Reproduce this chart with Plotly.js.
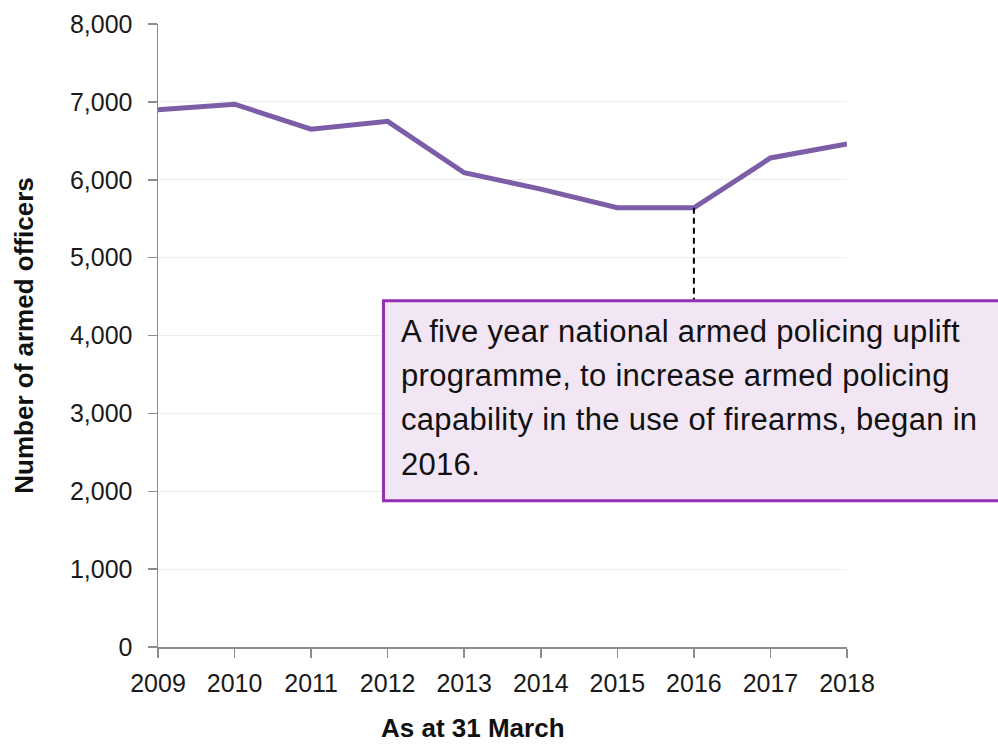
<!DOCTYPE html>
<html>
<head>
<meta charset="utf-8">
<script src="https://cdn.plot.ly/plotly-3.0.1.min.js"></script>
<style>
html,body{margin:0;padding:0;background:#fff;}
#chart{width:998px;height:744px;}
#chart .annotation[data-index="0"] text,
#chart .annotation[data-index="1"] text,
#chart .annotation[data-index="2"] text,
#chart .annotation[data-index="3"] text{letter-spacing:0.3px;}
</style>
</head>
<body>
<div id="chart"></div>
<script>
// Data
const years = [2009, 2010, 2011, 2012, 2013, 2014, 2015, 2016, 2017, 2018];
const officers = [6900, 6970, 6650, 6750, 6090, 5880, 5640, 5640, 6280, 6460];
const yTickVals = [0, 1000, 2000, 3000, 4000, 5000, 6000, 7000, 8000];
const noteLines = [
  "A five year national armed policing uplift",
  "programme, to increase armed policing",
  "capability in the use of firearms, began in",
  "2016."
];
const noteYear = 2016;
const xTitle = "As at 31 March";
const yTitle = "Number of armed officers";

const FONT = "Liberation Sans, Arial, Helvetica, sans-serif";
const yMax = 8000;

// annotation box (paper coords)
const box = {x0: 0.3273, x1: 1.23, y0: 0.2348, y1: 0.5559};

const trace = {
  type: "scatter",
  mode: "lines",
  x: years,
  y: officers,
  line: {color: "#7b5ea7", width: 5},
  hoverinfo: "x+y",
  cliponaxis: false
};

const noteIdx = years.indexOf(noteYear);

const annotations = noteLines.map((t, i) => ({
  xref: "paper", yref: "paper",
  x: 0.3498, y: box.y1,
  xanchor: "left", yanchor: "top",
  yshift: -11 - i * 44.4,
  text: t, showarrow: false, align: "left",
  font: {family: FONT, size: 31, color: "#111111"}
}));

annotations.push({
  xref: "paper", yref: "paper",
  x: 0.4565, y: -0.130,
  xanchor: "center", yanchor: "middle",
  text: "<b>" + xTitle + "</b>", showarrow: false,
  font: {family: FONT, size: 26, color: "#111111"}
});

const layout = {
  width: 998, height: 744,
  margin: {l: 158, r: 151, t: 24, b: 97, pad: 0},
  paper_bgcolor: "#ffffff",
  plot_bgcolor: "#ffffff",
  showlegend: false,
  font: {family: FONT, color: "#1a1a1a"},
  xaxis: {
    range: [years[0], years[years.length - 1]],
    tickvals: years,
    ticktext: years.map(String),
    showgrid: false,
    zeroline: false,
    showline: true, linecolor: "#8c8c8c", linewidth: 1.5,
    ticks: "outside", ticklen: 9, tickcolor: "#8c8c8c", tickwidth: 1.5,
    ticklabelstandoff: 4,
    tickfont: {family: FONT, size: 25, color: "#1a1a1a"},
    fixedrange: true
  },
  yaxis: {
    range: [0, yMax],
    tickvals: yTickVals,
    tickformat: ",",
    showgrid: true, gridcolor: "#eeeeee", gridwidth: 1,
    zeroline: false,
    showline: true, linecolor: "#8c8c8c", linewidth: 1.5,
    ticks: "outside", ticklen: 9, tickcolor: "#8c8c8c", tickwidth: 1.5,
    ticklabelstandoff: 10,
    tickfont: {family: FONT, size: 25, color: "#1a1a1a"},
    title: {text: "<b>" + yTitle + "</b>", font: {family: FONT, size: 26, color: "#111111"}, standoff: 29},
    fixedrange: true
  },
  shapes: [
    {
      type: "line", xref: "x", yref: "y",
      x0: years[noteIdx], x1: years[noteIdx],
      y0: officers[noteIdx], y1: box.y1 * yMax,
      line: {color: "#000000", width: 2, dash: "6px,4px"}
    },
    {
      type: "rect", xref: "paper", yref: "paper",
      x0: box.x0, x1: box.x1, y0: box.y0, y1: box.y1,
      fillcolor: "#f2e6f5",
      line: {color: "#9430b4", width: 3}
    }
  ],
  annotations: annotations
};

Plotly.newPlot("chart", [trace], layout, {displayModeBar: false, staticPlot: true});
</script>
</body>
</html>
